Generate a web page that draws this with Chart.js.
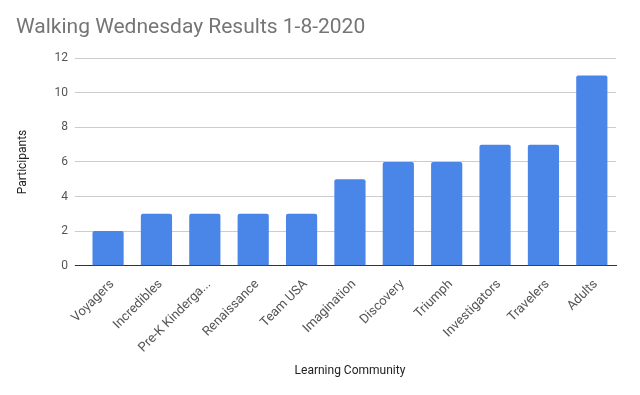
<!DOCTYPE html>
<html>
<head>
<meta charset="utf-8">
<script src="https://cdn.jsdelivr.net/npm/chart.js@4"></script>
<style>
  html, body { margin: 0; padding: 0; background: #fff; }
  #wrap { width: 640px; height: 395px; }
</style>
</head>
<body>
<div id="wrap"><canvas id="myChart" width="640" height="395"></canvas></div>
<script>
const categories = ['Voyagers', 'Incredibles', 'Pre-K Kindergarten', 'Renaissance', 'Team USA',
    'Imagination', 'Discovery', 'Triumph', 'Investigators', 'Travelers', 'Adults'];
const participants = [2, 3, 3, 3, 3, 5, 6, 6, 7, 7, 11];
const yTicks = [0, 2, 4, 6, 8, 10, 12];

window.onload = function() {
    const ctx = document.getElementById('myChart').getContext('2d');
    new Chart(ctx, {
        type: 'bar',
        data: {
            labels: categories,
            datasets: [{
                label: 'Participants',
                data: participants,
                backgroundColor: '#4a86e8',
                borderRadius: 2,
                borderSkipped: 'bottom',
                categoryPercentage: 1,
                barPercentage: 0.645
            }]
        },
        options: {
            responsive: false,
            animation: false,
            layout: { padding: { left: 16, right: 24, top: 11, bottom: 17 } },
            plugins: {
                legend: { display: false },
                tooltip: { enabled: false },
                title: {
                    display: true,
                    text: 'Walking Wednesday Results 1-8-2020',
                    align: 'start',
                    color: '#757575',
                    font: { family: 'Roboto', size: 21, weight: 'normal' },
                    padding: { top: 4, bottom: 18 }
                }
            },
            scales: {
                x: {
                    grid: { display: false },
                    border: { color: '#333333', width: 1 },
                    ticks: {
                        color: '#555555',
                        font: { family: 'Roboto', size: 13 },
                        minRotation: 45,
                        maxRotation: 45,
                        autoSkip: false,
                        padding: 3,
                        labelOffset: 4,
                        callback: function(value) {
                            const s = this.getLabelForValue(value);
                            return s.length > 15 ? s.slice(0, 14) + '...' : s;
                        }
                    },
                    title: {
                        display: true,
                        text: 'Learning Community',
                        color: '#222222',
                        font: { family: 'Roboto', size: 12 },
                        padding: { top: 5, bottom: 0 }
                    }
                },
                y: {
                    min: 0,
                    max: 12,
                    afterBuildTicks: function(axis) {
                        axis.ticks = yTicks.map(v => ({ value: v }));
                    },
                    grid: {
                        color: c => c.tick && c.tick.value === 0 ? '#333333' : '#cccccc',
                        tickColor: c => c.tick && c.tick.value === 0 ? '#333333' : '#cccccc',
                        tickLength: 9
                    },
                    border: { display: false },
                    ticks: {
                        color: '#555555',
                        font: { family: 'Roboto', size: 12 },
                        padding: 7
                    },
                    title: {
                        display: true,
                        text: 'Participants',
                        color: '#222222',
                        font: { family: 'Roboto', size: 12 },
                        padding: { top: 0, bottom: 17 }
                    }
                }
            }
        }
    });
};
</script>
</body>
</html>
